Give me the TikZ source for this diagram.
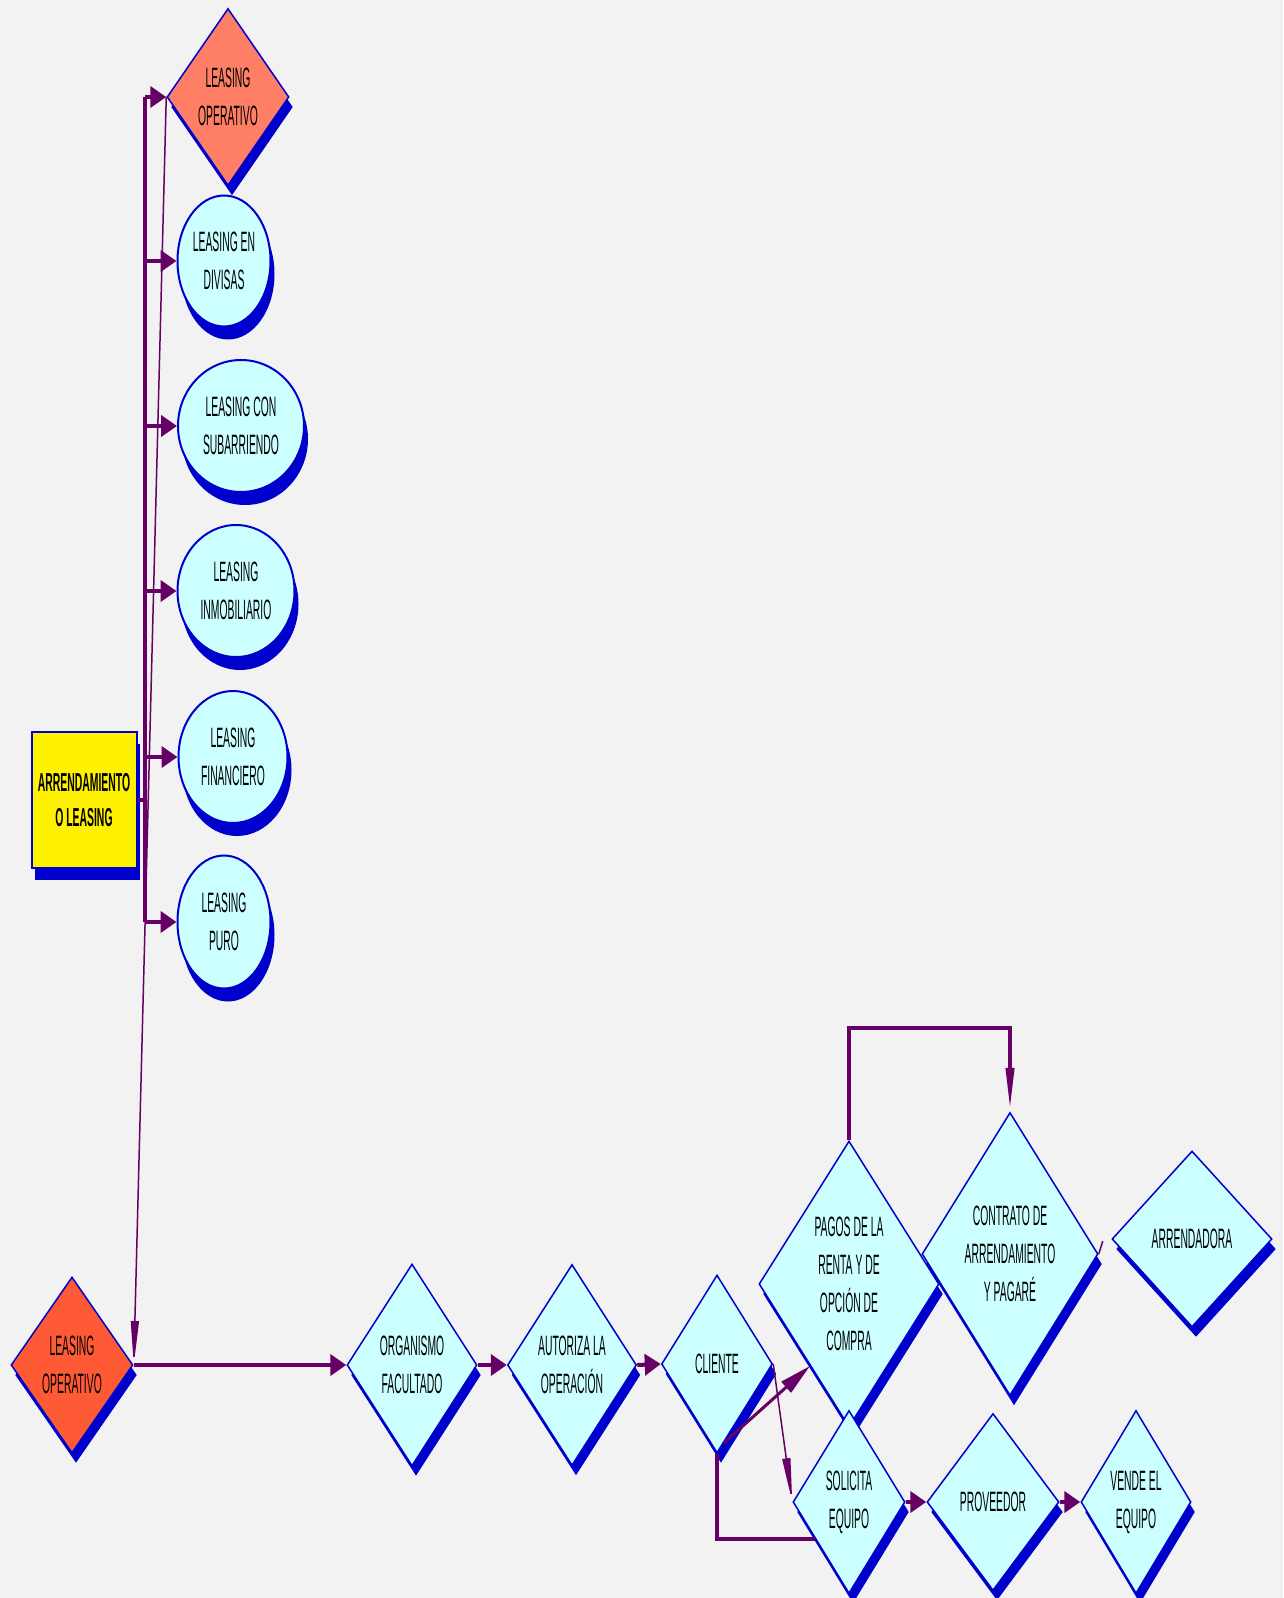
\documentclass[tikz,border=0pt]{standalone}
\usepackage{fontspec}
\usepackage{tikz}
\usetikzlibrary{shapes.geometric,shadows,arrows.meta,calc}
\newfontfamily\narrowfont[FakeStretch=0.37]{Liberation Sans}
\newfontfamily\narrowbold[FakeStretch=0.40]{Liberation Sans}
\newcommand{\lblfont}{\narrowfont\fontsize{14}{19}\selectfont}
\newcommand{\titlefont}{\narrowbold\bfseries\fontsize{13}{17.5}\selectfont}
\definecolor{bgcol}{HTML}{F2F2F2}
\definecolor{cyanfill}{HTML}{CCFFFF}
\definecolor{edgeblue}{HTML}{0000CC}
\definecolor{linkpurple}{HTML}{660066}
\definecolor{salmonfill}{HTML}{FF7F66}
\definecolor{tomatofill}{HTML}{FF5A36}
\tikzset{
  diam/.style={draw=edgeblue, line width=0.75pt, diamond, shape aspect=0.63, fill=cyanfill, inner sep=0pt, align=center, font=\lblfont,
    drop shadow={shadow xshift=2pt, shadow yshift=-5pt, fill=edgeblue, opacity=1}},
  oval/.style={draw=edgeblue, line width=1pt, ellipse, fill=cyanfill, inner sep=0pt, align=center, font=\lblfont,
    drop shadow={shadow xshift=2pt, shadow yshift=-6.5pt, fill=edgeblue, opacity=1}},
  titlebox/.style={draw=edgeblue, line width=1pt, rectangle, fill=yellow, inner sep=0pt, align=center, font=\titlefont,
    drop shadow={shadow xshift=1.5pt, shadow yshift=-6pt, fill=edgeblue, opacity=1}},
  link/.style={draw=linkpurple, line width=2pt},
  headtip/.style={-{Triangle[length=8pt,width=10.5pt]}},
  longhead/.style={-{Triangle[length=22pt,width=4pt]}},
  thinlink/.style={draw=linkpurple, line width=0.75pt, longhead}
}

\begin{document}
\begin{tikzpicture}[x=0.5pt, y=-0.5pt]
  \path[use as bounding box, fill=bgcol] (0,0) rectangle (1283,1598);

  % Root box and the types of leasing
  \node[titlebox, minimum width=52.5pt, minimum height=68pt] (arr) at (84,800) {ARRENDAMIENTO\\O LEASING};
  \node[diam, fill=salmonfill, minimum width=61pt, minimum height=88.5pt] (op1) at (228,97) {LEASING\\OPERATIVO};
  \node[oval, minimum width=46.5pt, minimum height=65.5pt] (div) at (224,261) {LEASING EN\\DIVISAS};
  \node[oval, minimum width=63pt, minimum height=66pt] (sub) at (241,426) {LEASING CON\\SUBARRIENDO};
  \node[oval, minimum width=58.5pt, minimum height=66pt] (inm) at (236,591) {LEASING\\INMOBILIARIO};
  \node[oval, minimum width=54.5pt, minimum height=66pt] (fin) at (233,757) {LEASING\\FINANCIERO};
  \node[oval, minimum width=46.5pt, minimum height=66.5pt] (pur) at (224,922) {LEASING\\PURO};

  % Operation flow
  \node[diam, fill=tomatofill, minimum width=61pt, minimum height=88pt] (op2) at (72,1365) {LEASING\\OPERATIVO};
  \node[diam, minimum width=65pt, minimum height=101pt] (org) at (412,1365) {ORGANISMO\\FACULTADO};
  \node[diam, minimum width=64.5pt, minimum height=100.5pt] (aut) at (572,1365) {AUTORIZA LA\\OPERACIÓN};
  \node[diam, minimum width=55.5pt, minimum height=89pt] (cli) at (717,1364) {CLIENTE};
  \node[diam, minimum width=90pt, minimum height=143pt] (pag) at (849,1284) {PAGOS DE LA\\RENTA Y DE\\OPCIÓN DE\\COMPRA};
  \node[diam, minimum width=88pt, minimum height=141.5pt] (con) at (1010,1254) {CONTRATO DE\\ARRENDAMIENTO\\Y PAGARÉ};
  \node[diam, minimum width=80pt, minimum height=88pt] (ard) at (1192,1239) {ARRENDADORA};
  \node[diam, minimum width=56pt, minimum height=91.5pt] (sol) at (849,1502) {SOLICITA\\EQUIPO};
  \node[diam, minimum width=66pt, minimum height=88.5pt] (pro) at (993,1502) {PROVEEDOR};
  \node[diam, minimum width=55pt, minimum height=91.5pt] (ven) at (1136,1502) {VENDE EL\\EQUIPO};

  % Trunk and branches of the tree
  \coordinate (tTop) at (145,97);
  \draw[link] (tTop) -- (tTop |- pur.west);
  \draw[link] (arr.east) -- (arr.east -| tTop);
  \foreach \n in {op1,div,sub,inm,fin,pur}{
    \draw[link,headtip] (tTop |- \n.west) -- (\n.west);
  }
  \draw[thinlink] (op1.west) -- (op2.east);

  % Arrows of the flow
  \draw[link,headtip] (op2.east) -- (org.west);
  \draw[link,headtip] (org.east) -- (aut.west);
  \draw[link,headtip] (aut.east) -- (cli.west);
  \draw[link, line width=1.5pt, -{Triangle[length=16pt,width=7pt]}] ($(cli.south)!0.12!(cli.east)$) -- ($(pag.west)!0.57!(pag.south)$);
  \draw[thinlink] (cli.east) -- (sol.west);
  \draw[link] (cli.south) |- ($(sol.west)!0.4!(sol.south)$);
  \draw[link,longhead] (pag.north) -- ++(0,-112) -| (con.north);
  \draw[linkpurple, line width=0.75pt] (con.east) -- ++(4,-13);
  \draw[link,headtip] (sol.east) -- (pro.west);
  \draw[link,headtip] (pro.east) -- (ven.west);
\end{tikzpicture}
\end{document}
